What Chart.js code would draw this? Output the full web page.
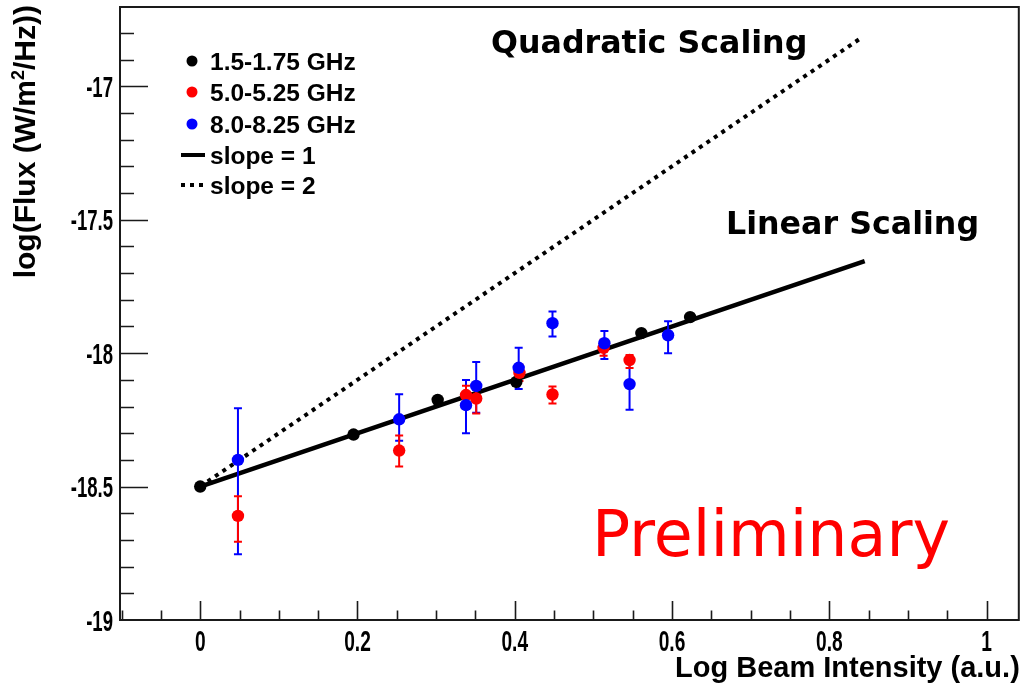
<!DOCTYPE html>
<html><head><meta charset="utf-8">
<script src="https://cdn.jsdelivr.net/npm/chart.js@4.4.1/dist/chart.umd.min.js"></script>
<style>html,body{margin:0;padding:0;background:#fff;overflow:hidden}</style>
</head><body>
<canvas id="c" width="1025" height="686"></canvas>
<script>
// ---------------- data ----------------
const blackX = [0.000, 0.195, 0.302, 0.402, 0.561, 0.623];
const blackY = [-18.500, -18.305, -18.175, -18.108, -17.925, -17.865];

const redX     = [0.048, 0.253, 0.338, 0.351, 0.406, 0.448, 0.513, 0.546];
const redY     = [-18.610, -18.365, -18.157, -18.170, -18.074, -18.155, -17.980, -18.026];
const redErrHi = [0.074, 0.056, 0.035, 0.050, 0.030, 0.030, 0.030, 0.019];
const redErrLo = [0.097, 0.060, 0.040, 0.056, 0.030, 0.034, 0.030, 0.030];

const blueX     = [0.048, 0.253, 0.338, 0.351, 0.405, 0.448, 0.514, 0.546, 0.595];
const blueY     = [-18.400, -18.248, -18.195, -18.123, -18.055, -17.888, -17.963, -18.116, -17.933];
const blueErrHi = [0.193, 0.094, 0.094, 0.090, 0.075, 0.044, 0.046, 0.080, 0.052];
const blueErrLo = [0.354, 0.080, 0.105, 0.100, 0.079, 0.050, 0.059, 0.096, 0.067];

const slope1X = [0.000, 0.845];
const slope1Y = [-18.500, -17.655];
const slope2X = [0.000, 0.840];
const slope2Y = [-18.500, -16.820];

const seriesNames = ['1.5-1.75 GHz', '5.0-5.25 GHz', '8.0-8.25 GHz', 'slope = 1', 'slope = 2'];

const xMajorTicks = [0, 0.2, 0.4, 0.6, 0.8, 1];
const xTickLabels = ['0', '0.2', '0.4', '0.6', '0.8', '1'];
const xMinorTicks = [-0.1, -0.05, 0.05, 0.1, 0.15, 0.25, 0.3, 0.35, 0.45, 0.5, 0.55, 0.65, 0.7, 0.75, 0.85, 0.9, 0.95];
const yMajorTicks = [-19, -18.5, -18, -17.5, -17];
const yTickLabels = ['-19', '-18.5', '-18', '-17.5', '-17'];
const yMinorTicks = [-18.9, -18.8, -18.7, -18.6, -18.4, -18.3, -18.2, -18.1, -17.9, -17.8, -17.7, -17.6, -17.4, -17.3, -17.2, -17.1, -16.9, -16.8];

const xRange = [-0.102, 1.041];
const yRange = [-19, -16.703];

const xTitle = 'Log Beam Intensity (a.u.)';
const yTitleParts = ['log(Flux (W/m', '2', '/Hz))'];
const noteQuad = 'Quadratic Scaling';
const noteLin = 'Linear Scaling';
const notePrelim = 'Preliminary';

// ---------------- helpers ----------------
const pts = (xs, ys) => xs.map((x, i) => ({x: x, y: ys[i]}));
const LS = '"Liberation Sans", Arial, Helvetica, sans-serif';
const DJ = '"DejaVu Sans", sans-serif';

function txt(ctx, s, x, y, font, color, align, base, sx) {
  ctx.save();
  ctx.font = font; ctx.fillStyle = color;
  ctx.textAlign = align; ctx.textBaseline = base;
  ctx.translate(x, y); ctx.scale(sx || 1, 1);
  ctx.fillText(s, 0, 0);
  ctx.restore();
}

function makeTicks(majors, labels, minors, range) {
  return function (scale) {
    const t = [];
    majors.forEach(v => t.push({value: v, major: true}));
    minors.filter(v => v >= range[0] && v <= range[1]).forEach(v => t.push({value: v, major: false}));
    scale.ticks = t;
  };
}
function labelFor(majors, labels) {
  return function (value) {
    const i = majors.findIndex(m => Math.abs(m - value) < 1e-9);
    return i >= 0 ? labels[i] : '';
  };
}

// ---------------- plugin: ROOT-like frame, ticks, error bars, texts ----------------
const rootStyle = {
  id: 'rootStyle',
  beforeDatasetDraw(chart, args) {
    if (args.index !== 0) return; // draw all error bars just before black markers
    const ctx = chart.ctx, xs = chart.scales.x, ys = chart.scales.y;
    const bars = [[blueX, blueY, blueErrLo, blueErrHi, '#0000ff'], [redX, redY, redErrLo, redErrHi, '#ff0000']];
    ctx.save();
    ctx.lineWidth = 2;
    bars.forEach(b => {
      ctx.strokeStyle = b[4];
      b[0].forEach((xv, i) => {
        const px = xs.getPixelForValue(xv);
        const pTop = ys.getPixelForValue(b[1][i] + b[3][i]);
        const pBot = ys.getPixelForValue(b[1][i] - b[2][i]);
        ctx.beginPath();
        ctx.moveTo(px, pTop); ctx.lineTo(px, pBot);
        ctx.moveTo(px - 4, pTop); ctx.lineTo(px + 4, pTop);
        ctx.moveTo(px - 4, pBot); ctx.lineTo(px + 4, pBot);
        ctx.stroke();
      });
    });
    ctx.restore();
  },
  afterDraw(chart) {
    const ctx = chart.ctx, a = chart.chartArea, xs = chart.scales.x, ys = chart.scales.y;
    ctx.save();
    // frame
    ctx.strokeStyle = '#1a1a1a'; ctx.lineWidth = 2;
    ctx.strokeRect(a.left, a.top, a.right - a.left, a.bottom - a.top);
    // ticks
    ctx.lineWidth = 1.6;
    ctx.beginPath();
    xs.ticks.forEach(t => {
      const px = Math.round(xs.getPixelForValue(t.value)) + 0.5;
      if (px <= a.left + 1 || px >= a.right - 1) return;
      ctx.moveTo(px, a.bottom); ctx.lineTo(px, a.bottom - (t.major ? 19 : 9.5));
    });
    ys.ticks.forEach(t => {
      const py = Math.round(ys.getPixelForValue(t.value)) + 0.5;
      if (py <= a.top + 1 || py >= a.bottom - 1) return;
      ctx.moveTo(a.left, py); ctx.lineTo(a.left + (t.major ? 28 : 14), py);
    });
    ctx.stroke();
    ctx.restore();

    const tickFont = 'bold 29px ' + LS;
    xs.ticks.forEach(t => {
      if (!t.major) return;
      txt(ctx, t.label, xs.getPixelForValue(t.value), a.bottom + 31, tickFont, '#000', 'center', 'alphabetic', 0.66);
    });
    ys.ticks.forEach(t => {
      if (!t.major) return;
      txt(ctx, t.label, a.left - 7, ys.getPixelForValue(t.value) + 10.5, tickFont, '#000', 'right', 'alphabetic', 0.64);
    });

    // axis titles
    txt(ctx, xTitle, a.right + 1, 677, 'bold 29px ' + LS, '#000', 'right', 'alphabetic', 1);
    ctx.save();
    const f1 = 'bold 30px ' + LS, f2 = 'bold 18px ' + LS;
    ctx.font = f1; const w1 = ctx.measureText(yTitleParts[0]).width, w3 = ctx.measureText(yTitleParts[2]).width;
    ctx.font = f2; const w2 = ctx.measureText(yTitleParts[1]).width;
    const total = w1 + w2 + w3;
    ctx.translate(35, 5 + total);
    ctx.rotate(-Math.PI / 2);
    ctx.fillStyle = '#000'; ctx.textAlign = 'left'; ctx.textBaseline = 'alphabetic';
    ctx.font = f1; ctx.fillText(yTitleParts[0], 0, 0);
    ctx.font = f2; ctx.fillText(yTitleParts[1], w1, -11);
    ctx.font = f1; ctx.fillText(yTitleParts[2], w1 + w2, 0);
    ctx.restore();

    // legend
    const lx = 192, rows = [61, 92, 124, 155, 185], colors = ['#000', '#ff0000', '#0000ff'];
    ctx.save();
    for (let i = 0; i < 3; i++) {
      ctx.fillStyle = colors[i];
      ctx.beginPath(); ctx.arc(lx, rows[i], 5.5, 0, Math.PI * 2); ctx.fill();
    }
    ctx.strokeStyle = '#000'; ctx.lineWidth = 4;
    ctx.beginPath(); ctx.moveTo(181, rows[3]); ctx.lineTo(205, rows[3]); ctx.stroke();
    ctx.setLineDash([4, 5]);
    ctx.beginPath(); ctx.moveTo(181, rows[4]); ctx.lineTo(205, rows[4]); ctx.stroke();
    ctx.restore();
    seriesNames.forEach((s, i) => txt(ctx, s, 210, rows[i] + 8.5, 'bold 24.5px ' + LS, '#000', 'left', 'alphabetic', 1));

    // annotations
    txt(ctx, noteQuad, 491, 53, 'bold 31.7px ' + DJ, '#000', 'left', 'alphabetic', 1);
    txt(ctx, noteLin, 726, 234, 'bold 31.7px ' + DJ, '#000', 'left', 'alphabetic', 1);
    txt(ctx, notePrelim, 592, 556, '63.4px ' + DJ, '#ff0000', 'left', 'alphabetic', 1);
  }
};

new Chart(document.getElementById('c'), {
  type: 'scatter',
  data: {
    datasets: [
      {label: seriesNames[0], data: pts(blackX, blackY), backgroundColor: '#000', borderColor: '#000', pointRadius: 6.2, pointBorderWidth: 0, showLine: false, order: 2},
      {label: seriesNames[1], data: pts(redX, redY), backgroundColor: '#ff0000', borderColor: '#ff0000', pointRadius: 6.2, pointBorderWidth: 0, showLine: false, order: 1},
      {label: seriesNames[2], data: pts(blueX, blueY), backgroundColor: '#0000ff', borderColor: '#0000ff', pointRadius: 6.2, pointBorderWidth: 0, showLine: false, order: 0},
      {label: seriesNames[3], data: pts(slope1X, slope1Y), borderColor: '#000', borderWidth: 4.5, pointRadius: 0, showLine: true, order: 4},
      {label: seriesNames[4], data: pts(slope2X, slope2Y), borderColor: '#000', borderWidth: 4, borderDash: [4, 5], pointRadius: 0, showLine: true, order: 3}
    ]
  },
  options: {
    responsive: false,
    animation: false,
    devicePixelRatio: 1,
    layout: {padding: {left: 120, top: 7, right: 5, bottom: 66}},
    plugins: {legend: {display: false}, tooltip: {enabled: false}},
    scales: {
      x: {
        type: 'linear', min: xRange[0], max: xRange[1],
        afterBuildTicks: makeTicks(xMajorTicks, xTickLabels, xMinorTicks, xRange),
        ticks: {display: false, autoSkip: false, callback: labelFor(xMajorTicks, xTickLabels)},
        grid: {display: false, drawTicks: false}, border: {display: false}
      },
      y: {
        type: 'linear', min: yRange[0], max: yRange[1],
        afterBuildTicks: makeTicks(yMajorTicks, yTickLabels, yMinorTicks, yRange),
        ticks: {display: false, autoSkip: false, callback: labelFor(yMajorTicks, yTickLabels)},
        grid: {display: false, drawTicks: false}, border: {display: false}
      }
    }
  },
  plugins: [rootStyle]
});
</script>
</body></html>
